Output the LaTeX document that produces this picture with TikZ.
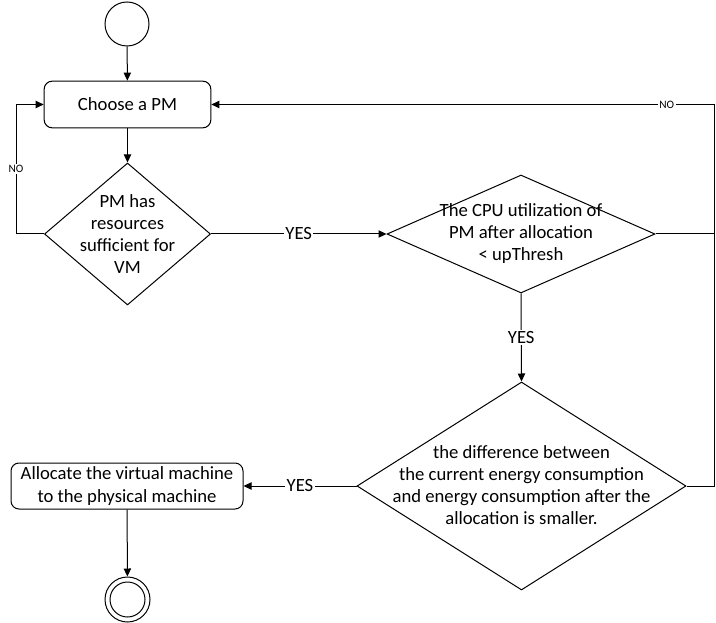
\documentclass[tikz,border=0pt]{standalone}
\usepackage{fontspec}
\setmainfont{Carlito}
\usetikzlibrary{shapes.geometric,arrows.meta}
\tikzset{
  every path/.style={line width=0.75pt},
  conn/.style={draw=black, line width=0.75pt},
  arr/.style={conn, -{Triangle[length=6pt,width=5.5pt]}},
  rbox/.style={draw, rounded corners=6pt, line width=0.75pt, align=center, inner sep=0pt,
    font=\fontsize{14}{17}\selectfont},
  dia/.style={draw, diamond, inner sep=0pt, line width=0.75pt},
  dtext/.style={align=center, inner sep=0pt, font=\fontsize{14}{16.5}\selectfont},
  yeslab/.style={fill=white, inner sep=1pt, font=\fontsize{14}{16}\selectfont},
  nolab/.style={fill=white, inner sep=1pt, font=\fontsize{8.5}{10}\selectfont},
  startc/.style={draw, circle, line width=0.75pt, minimum size=33pt, inner sep=0pt},
}
\begin{document}
\begin{tikzpicture}[x=0.75pt,y=-0.75pt]
\useasboundingbox (0,0) rectangle (716,623);
\node[startc] (start) at (127,24) {};
\node[rbox, minimum width=125pt, minimum height=35pt] (choose) at (127.5,104.5) {Choose a PM};
\node[dia, minimum width=124.5pt, minimum height=106.5pt] (d1) at (127.5,234) {};
\node[dtext] (d1t) at (127.5,234) {PM has\\resources\\sufficient for\\VM};
\node[dia, minimum width=201pt, minimum height=88.5pt] (d2) at (521,234) {};
\node[dtext] (d2t) at (521,234) {The CPU utilization of\\PM after allocation\\< upThresh};
\node[dia, minimum width=246.75pt, minimum height=156pt] (d3) at (521.5,486) {};
\node[dtext] (d3t) at (521.5,485) {the difference between\\the current energy consumption\\and energy consumption after the\\allocation is smaller.};
\node[rbox, minimum width=174pt, minimum height=34.5pt] (alloc) at (127,486) {Allocate the virtual machine\\to the physical machine};
\node[startc, minimum size=33.75pt] (end) at (127.5,599.5) {};
\node[draw, circle, line width=0.75pt, minimum size=26.25pt, inner sep=0pt] (endin) at (end.center) {};
\coordinate (nl) at (16,234);
\coordinate (rc2) at (714,234);
\coordinate (rc3) at (714,486);

\draw[arr] (start) -- (choose);
\draw[arr] (choose) -- (d1);
\draw[arr] (d1.west) -- (nl) |- node[nolab, pos=0.25] {NO} (choose.west);
\draw[arr] (d1.east) -- node[yeslab] {YES} (d2.west);
\draw[conn] (d2.east) -- (rc2);
\draw[arr] (d3.east) -- (rc3) |- node[nolab, pos=0.547] {NO} (choose.east);
\draw[arr] (d2.south) -- node[yeslab] {YES} (d3.north);
\draw[arr] (d3.west) -- node[yeslab] {YES} (alloc.east);
\draw[arr] (alloc) -- (end);
\end{tikzpicture}
\end{document}
